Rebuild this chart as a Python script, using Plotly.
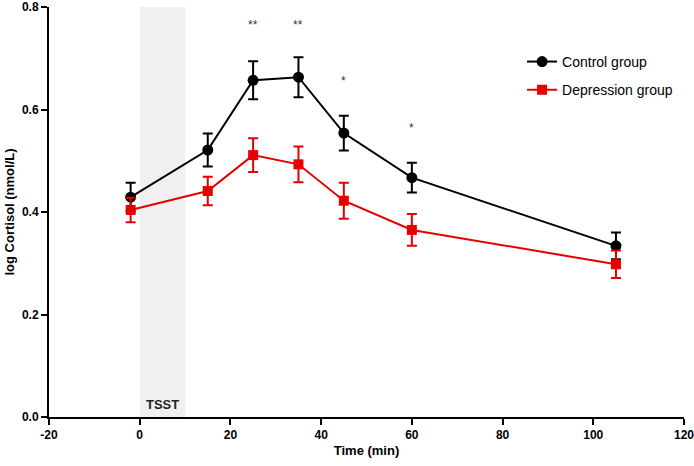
import plotly.graph_objects as go

# time points (min) and group means / SEM of log cortisol
times = [-2, 15, 25, 35, 45, 60, 105]
control_mean = [0.429, 0.521, 0.657, 0.663, 0.554, 0.467, 0.334]
control_sem = [0.028, 0.032, 0.037, 0.039, 0.034, 0.029, 0.026]
depr_mean = [0.404, 0.441, 0.511, 0.493, 0.422, 0.365, 0.298]
depr_sem = [0.024, 0.028, 0.033, 0.035, 0.035, 0.031, 0.027]

# significance markers
sig_times = [25, 35, 45, 60]
sig_labels = ["**", "**", "*", "*"]
sig_y = [0.765, 0.765, 0.655, 0.563]

# axis ticks
x_ticks = [-20, 0, 20, 40, 60, 80, 100, 120]
x_ticklabels = ["-20", "0", "20", "40", "60", "80", "100", "120"]
y_ticks = [0, 0.2, 0.4, 0.6, 0.8]

# TSST window
tsst_start, tsst_end = 0, 10

BLACK = "#000000"
RED = "#E60000"
FONT = "Liberation Sans, Arial, sans-serif"

fig = go.Figure()

fig.add_shape(type="rect", xref="x", yref="y",
              x0=tsst_start, x1=tsst_end, y0=0, y1=0.8,
              fillcolor="#F0F0F0", line_width=0, layer="below")
fig.add_annotation(x=(tsst_start + tsst_end) / 2, y=0, yref="y", text="<b>TSST</b>",
                   showarrow=False, yanchor="bottom", yshift=3,
                   font=dict(family=FONT, size=13, color="#222"))

fig.add_trace(go.Scatter(
    x=times, y=control_mean, name="Control group", mode="lines+markers",
    legendgroup="c",
    line=dict(color=BLACK, width=2),
    marker=dict(symbol="circle", size=11, color=BLACK),
    error_y=dict(type="data", array=control_sem, color=BLACK, thickness=2, width=5),
))
fig.add_trace(go.Scatter(
    x=times, y=depr_mean, name="Depression group", mode="lines+markers",
    legendgroup="d",
    line=dict(color=RED, width=2),
    marker=dict(symbol="square", size=10, color=RED),
    error_y=dict(type="data", array=depr_sem, color=RED, thickness=2, width=5),
))

for t, lab, yy in zip(sig_times, sig_labels, sig_y):
    fig.add_annotation(x=t, y=yy, text=lab, showarrow=False,
                       font=dict(family=FONT, size=12, color="#333"))

axis_common = dict(
    showline=True, linecolor="black", linewidth=2, ticks="outside",
    tickwidth=2, ticklen=6, tickcolor="black", showgrid=False, zeroline=False,
    automargin=False, ticklabeloverflow="allow",
    tickfont=dict(family=FONT, size=12, color="black", weight="bold"),
)
fig.update_xaxes(
    range=[-20, 120], tickvals=x_ticks, ticktext=x_ticklabels,
    title=dict(text="Time (min)", font=dict(family=FONT, size=13, color="black", weight="bold"),
               standoff=4),
    **axis_common,
)
fig.update_yaxes(
    range=[0, 0.8], tickvals=y_ticks, tickformat=".1f",
    title=dict(text="log Cortisol (nmol/L)",
               font=dict(family=FONT, size=13, color="black", weight="bold"), standoff=4),
    **axis_common,
)

fig.update_layout(
    width=694, height=466,
    margin=dict(l=49, r=10, t=7, b=49),
    plot_bgcolor="white", paper_bgcolor="white",
    font=dict(family=FONT, color="black"),
    legend=dict(x=0.745, y=0.905, xanchor="left", yanchor="top",
                font=dict(family=FONT, size=14), bgcolor="rgba(0,0,0,0)",
                traceorder="grouped", tracegroupgap=7),
    showlegend=True,
)

# drop the default page margin so the figure sits at the window's corner
fig.write_html("out.html", config={"displayModeBar": False},
               post_script="document.body.style.margin='0';")
